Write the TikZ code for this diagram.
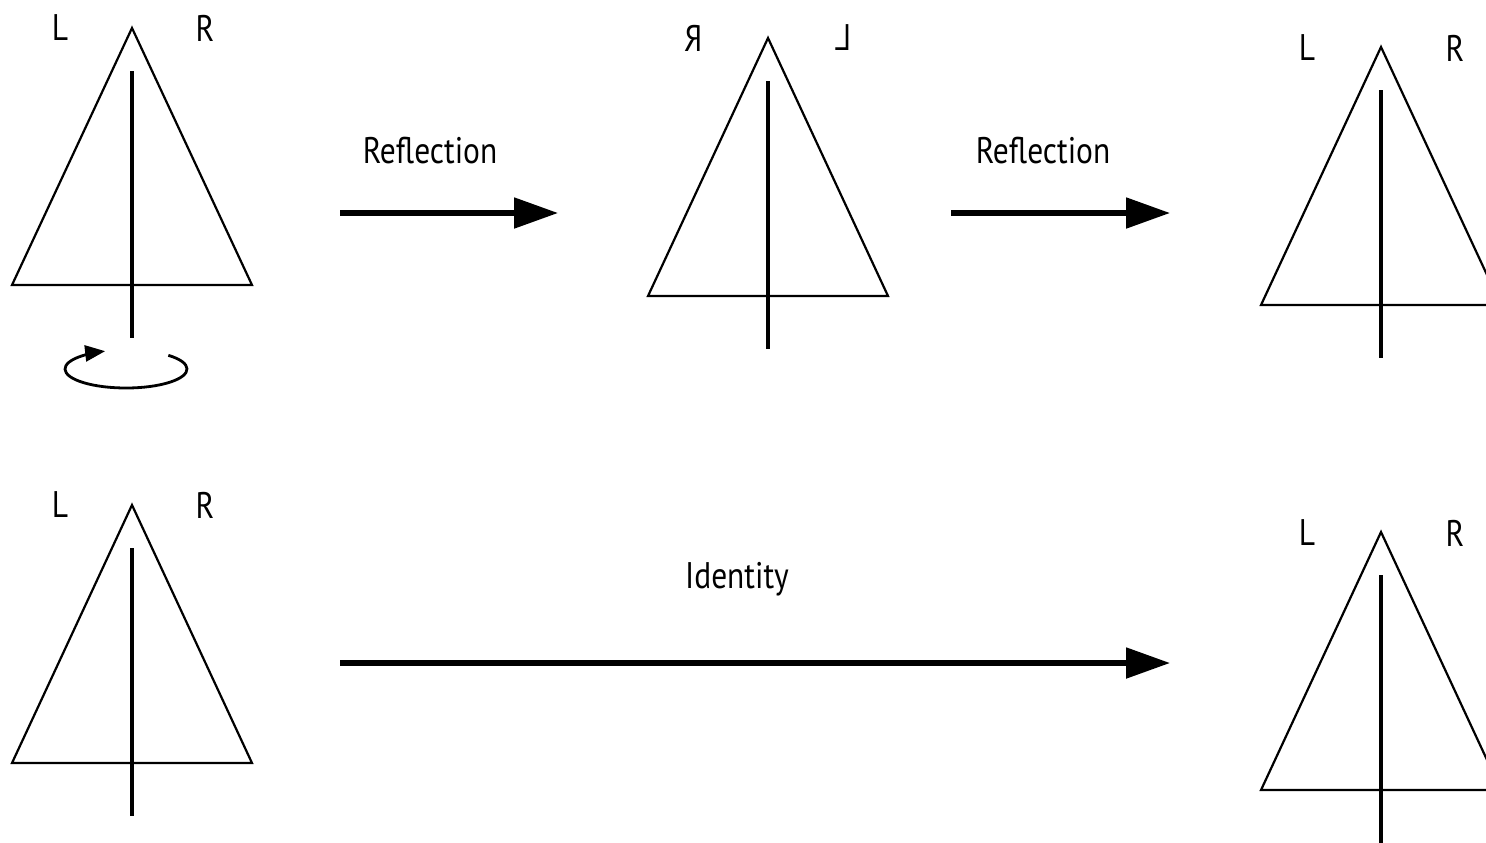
\documentclass[tikz,border=0pt]{standalone}
\usepackage{fontspec}
\usepackage{graphicx}
\newfontfamily\lblfont[FakeStretch=0.85]{PT Sans}
\usetikzlibrary{arrows.meta}
\tikzset{
  tri/.style={line width=1.1pt, line join=miter},
  axis/.style={line width=2.2pt},
  bigarrow/.style={line width=2.6pt, -{Triangle[length=22pt,width=15pt]}},
  rotarrow/.style={line width=1.4pt, -{Triangle[length=10pt,width=8pt]}},
  lbl/.style={font=\lblfont\fontsize{18.5pt}{22pt}\selectfont, inner sep=0pt},
}
\newcommand{\tree}[4]{% name, apex x, apex y, base y
  \coordinate (#1apex) at (#2,#3);
  \coordinate (#1bl) at (#2-120,#4);
  \coordinate (#1br) at (#2+120,#4);
  \draw[tri] (#1apex) -- (#1br) -- (#1bl) -- cycle;
  \coordinate (#1top) at (#2,#3+43);
  \coordinate (#1bot) at (#2,#4+53);
  \draw[axis] (#1top) -- (#1bot);
}
\begin{document}
\begin{tikzpicture}[x=0.5pt,y=-0.5pt]
\useasboundingbox (0,0) rectangle (1486,842);
\clip (0,0) rectangle (1486,842);
% triangles
\tree{a}{132}{28}{285}
\tree{b}{768}{38}{296}
\tree{c}{1381}{47}{305}
\tree{d}{132}{505}{763}
\tree{e}{1381}{532}{790}
% labels
\node[lbl] (aL) at (60,28) {L};
\node[lbl] (aR) at (205,28) {R};
\node[lbl] (bR) at (693,38) {\reflectbox{R}};
\node[lbl] (bL) at (843,38) {\reflectbox{L}};
\node[lbl] (cL) at (1307,48) {L};
\node[lbl] (cR) at (1455,48) {R};
\node[lbl] (dL) at (60,505) {L};
\node[lbl] (dR) at (205,505) {R};
\node[lbl] (eL) at (1307,533) {L};
\node[lbl] (eR) at (1455,533) {R};
% rotation arrow
\coordinate (rc) at (126,369);
\draw[rotarrow] ([shift={(46:61 and -19)}]rc) arc[start angle=46, end angle=-250, x radius=61, y radius=-19];
% arrows
\coordinate (p1) at (340,213);
\coordinate (q1) at (558,213);
\coordinate (p2) at (951,213);
\coordinate (q2) at (1170,213);
\coordinate (p3) at (340,663);
\coordinate (q3) at (1170,663);
\draw[bigarrow] (p1) -- (q1);
\draw[bigarrow] (p2) -- (q2);
\draw[bigarrow] (p3) -- (q3);
\node[lbl] (t1) at (430,151) {Reflection};
\node[lbl] (t2) at (1043,151) {Reflection};
\node[lbl] (t3) at (737,579) {Identity};
\end{tikzpicture}
\end{document}
